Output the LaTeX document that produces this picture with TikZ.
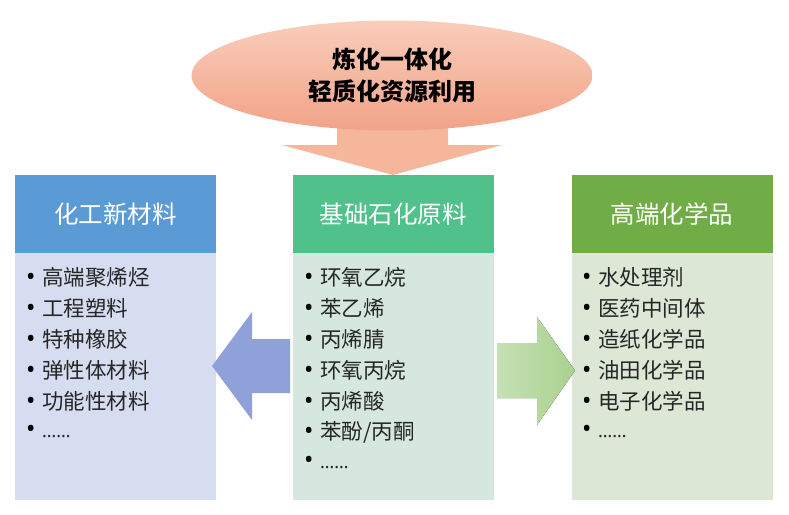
\documentclass[tikz,border=0pt]{standalone}
\usepackage{fontspec}
\newfontfamily\cjk{Noto Sans CJK SC}
\newfontfamily\latinf{Noto Sans}
\usetikzlibrary{positioning, shapes.geometric}

\definecolor{blueHead}{HTML}{5B9BD5}
\definecolor{blueBody}{HTML}{D7DDF0}
\definecolor{mintHead}{HTML}{50C18B}
\definecolor{mintBody}{HTML}{D5E7DF}
\definecolor{leafHead}{HTML}{70AD47}
\definecolor{leafBody}{HTML}{DCE8D5}
\definecolor{peachTop}{HTML}{F9CDBA}
\definecolor{peachBot}{HTML}{F1A387}
\definecolor{peachArrow}{HTML}{F5B69C}
\definecolor{blueArrow}{HTML}{8EA1D8}
\definecolor{greenArrow}{HTML}{A9D18F}
\definecolor{greenLight}{HTML}{C6E0B5}

\newcommand{\dotmark}{\makebox[16pt][l]{\color{black}\latinf\fontsize{25}{25}\selectfont •}}
\newcommand{\moredots}{{\latinf\fontsize{18}{18}\selectfont ……}}

\tikzset{
    head/.style={rectangle, minimum width=201pt, minimum height=78pt, inner sep=0pt,
        text=white, font=\cjk\fontsize{24.5}{24.5}\selectfont},
    panel/.style={rectangle, minimum width=201pt, minimum height=247pt, inner sep=0pt},
    entry/.style={inner sep=0pt, text=black!85, font=\cjk\fontsize{21.5}{21.5}\selectfont},
}

\begin{document}
\begin{tikzpicture} [x=1pt, y=-1pt, node distance = 31pt, on grid]
    \useasboundingbox (0,0) rectangle (789,514);

    % top: arrow behind the ellipse
    \fill [peachArrow] (337,110) -- (448,110) -- (448,145) -- (502,145) -- (393,175)
        -- (282,145) -- (337,145) -- cycle;
    \node (top) [ellipse, minimum width=401pt, minimum height=110pt, inner sep=0pt,
        top color=peachTop, bottom color=peachBot, align=center,
        font=\cjk\bfseries\fontsize{24}{32}\selectfont] at (392,75.5)
        {炼化一体化\\轻质化资源利用};

    % three boxes
    \node (LH) [head, fill=blueHead] at (115.5,214) {化工新材料};
    \node (LB) [panel, fill=blueBody] at (115.5,376.5) {};
    \node (MH) [head, fill=mintHead] at (393,214) {基础石化原料};
    \node (MB) [panel, fill=mintBody] at (393,376.5) {};
    \node (RH) [head, fill=leafHead] at (672,214) {高端化学品};
    \node (RB) [panel, fill=leafBody] at (672,376.5) {};

    % side arrows
    \fill [blueArrow] (290,339) -- (252,339) -- (252,312) -- (212,366) -- (252,420)
        -- (252,393) -- (290,393) -- cycle;
    \fill [left color=greenLight, right color=greenArrow] (497,343) -- (537,343)
        -- (537,317) -- (575,370.5) -- (537,425) -- (537,398) -- (497,398) -- cycle;

    % left list
    \node (L1) [entry, anchor=west] at (26,277) {\dotmark 高端聚烯烃};
    \node (L2) [entry, below = of L1.west, anchor=west] {\dotmark 工程塑料};
    \node (L3) [entry, below = of L2.west, anchor=west] {\dotmark 特种橡胶};
    \node (L4) [entry, below = of L3.west, anchor=west] {\dotmark 弹性体材料};
    \node (L5) [entry, below = of L4.west, anchor=west] {\dotmark 功能性材料};
    \node (L6) [entry, below = of L5.west, anchor=west] {\dotmark\moredots};

    % middle list
    \node (M1) [entry, anchor=west] at (304,277) {\dotmark 环氧乙烷};
    \node (M2) [entry, below = of M1.west, anchor=west] {\dotmark 苯乙烯};
    \node (M3) [entry, below = of M2.west, anchor=west] {\dotmark 丙烯腈};
    \node (M4) [entry, below = of M3.west, anchor=west] {\dotmark 环氧丙烷};
    \node (M5) [entry, below = of M4.west, anchor=west] {\dotmark 丙烯酸};
    \node (M6) [entry, below = of M5.west, anchor=west] {\dotmark 苯酚/丙酮};
    \node (M7) [entry, below = of M6.west, anchor=west] {\dotmark\moredots};

    % right list
    \node (R1) [entry, anchor=west] at (582,277) {\dotmark 水处理剂};
    \node (R2) [entry, below = of R1.west, anchor=west] {\dotmark 医药中间体};
    \node (R3) [entry, below = of R2.west, anchor=west] {\dotmark 造纸化学品};
    \node (R4) [entry, below = of R3.west, anchor=west] {\dotmark 油田化学品};
    \node (R5) [entry, below = of R4.west, anchor=west] {\dotmark 电子化学品};
    \node (R6) [entry, below = of R5.west, anchor=west] {\dotmark\moredots};

\end{tikzpicture}
\end{document}
